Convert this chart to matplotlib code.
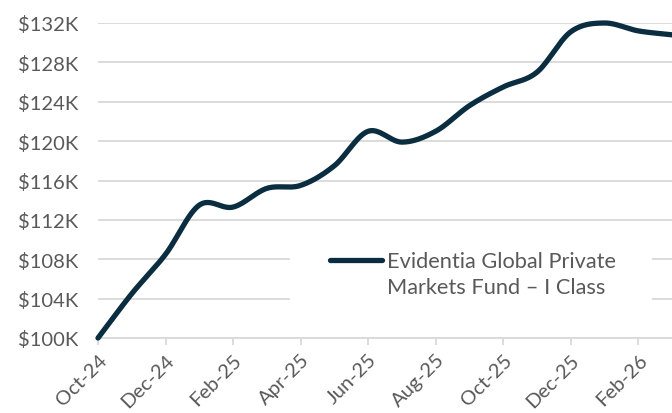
import numpy as np
import matplotlib
matplotlib.use("Agg")
import matplotlib.pyplot as plt
from matplotlib.lines import Line2D
from matplotlib.patches import Rectangle

months = ["Oct-24", "Nov-24", "Dec-24", "Jan-25", "Feb-25", "Mar-25", "Apr-25", "May-25",
          "Jun-25", "Jul-25", "Aug-25", "Sep-25", "Oct-25", "Nov-25", "Dec-25", "Jan-26",
          "Feb-26", "Mar-26"]
values = [100.0, 104.5, 108.5, 113.5, 113.3, 115.2, 115.5, 117.5,
          121.0, 119.9, 121.0, 123.6, 125.5, 127.0, 131.1, 132.0,
          131.2, 130.8]
yticks = [100, 104, 108, 112, 116, 120, 124, 128, 132]
series_name = ["Evidentia Global Private", "Markets Fund \u2013 I Class"]

plt.rcParams['font.family'] = ['Lato', 'DejaVu Sans']

def catmull_rom(x, y, n=30):
    x = np.asarray(x, float); y = np.asarray(y, float)
    px = np.concatenate([[2*x[0]-x[1]], x, [2*x[-1]-x[-2]]])
    py = np.concatenate([[2*y[0]-y[1]], y, [2*y[-1]-y[-2]]])
    xs, ys = [], []
    t = np.linspace(0, 1, n, endpoint=False)
    for i in range(1, len(px)-2):
        p0, p1, p2, p3 = [np.array([px[j], py[j]]) for j in (i-1, i, i+1, i+2)]
        for tt in t:
            pt = 0.5*((2*p1) + (-p0+p2)*tt + (2*p0-5*p1+4*p2-p3)*tt**2 + (-p0+3*p1-3*p2+p3)*tt**3)
            xs.append(pt[0]); ys.append(pt[1])
    xs.append(x[-1]); ys.append(y[-1])
    return np.array(xs), np.array(ys)

fig = plt.figure(figsize=(6.72, 4.14), dpi=100)
ax = fig.add_axes([98/672, (414-339)/414, 1-98/672, (339-24)/414])

xi = np.arange(len(months))
sx, sy = catmull_rom(xi, values)
line, = ax.plot(sx, sy, color="#0B2D40", lw=3.8, solid_capstyle='round', clip_on=False,
                zorder=3)

ax.set_xlim(0, len(months)-1)
ax.set_ylim(100, 132)
ax.set_yticks(yticks)
ax.set_yticklabels([f"${v}K" for v in yticks])
ax.set_xticks(xi[::2])
ax.set_xticklabels(months[::2], rotation=45, ha='right', rotation_mode='anchor')

ax.grid(axis='y', color="#d9d9d9", lw=1.3)
ax.set_axisbelow(True)
for s in ['top', 'right', 'left']:
    ax.spines[s].set_visible(False)
ax.spines['bottom'].set_color("#d9d9d9")
ax.spines['bottom'].set_linewidth(1.3)
ax.tick_params(axis='y', length=0, labelsize=14.5, labelcolor="#595959", pad=14)
ax.tick_params(axis='x', length=5, width=1.3, color="#d9d9d9", labelsize=14.5,
               labelcolor="#595959", pad=4)

# white legend background box
ax.add_patch(Rectangle(((290-98)/574, (339-335)/315), (652-290)/574, (335-225)/315,
                       transform=ax.transAxes, facecolor='white', edgecolor='none', zorder=2))

h1 = Line2D([], [], color="#0B2D40", lw=3.8, solid_capstyle='round')
h2 = Line2D([], [], color='none')
leg = ax.legend([h1, h2], series_name, loc='center left',
                bbox_to_anchor=((330-98)/574, (339-275)/315),
                frameon=False, fontsize=15.7, handlelength=2.4, handletextpad=0.22,
                borderpad=0, borderaxespad=0, labelspacing=0.25, labelcolor="#595959")
leg.set_zorder(4)

fig.savefig("out.png", dpi=100)
